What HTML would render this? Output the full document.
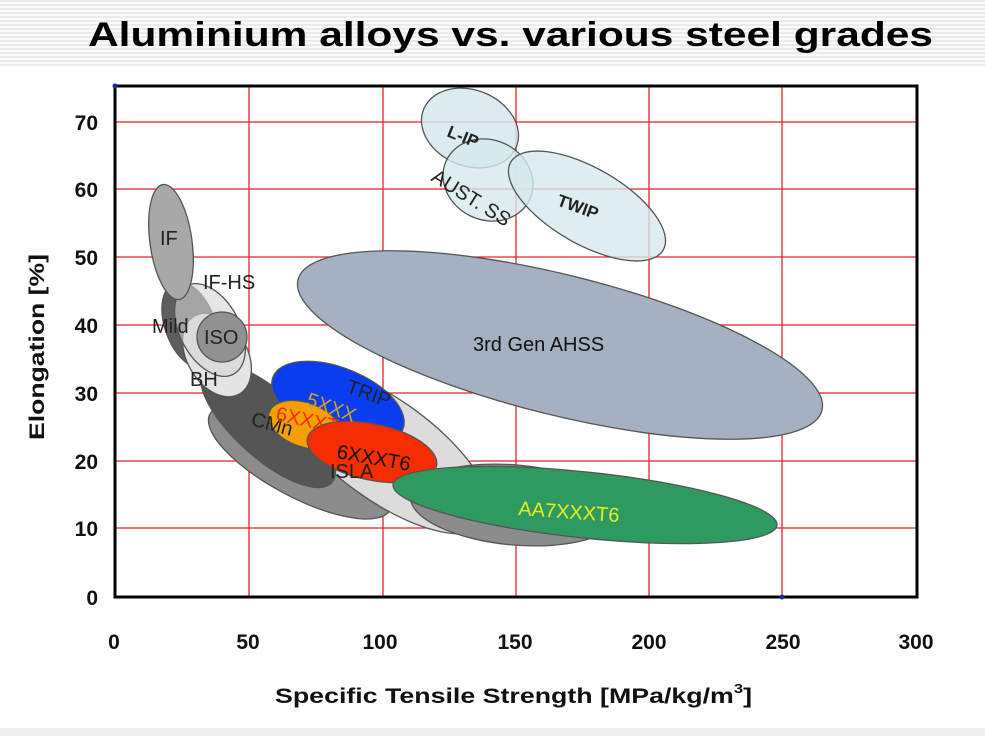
<!DOCTYPE html>
<html><head><meta charset="utf-8"><style>
html,body{margin:0;padding:0;background:#fff;}
svg{display:block;}
</style></head><body>
<svg width="985" height="736" viewBox="0 0 985 736" xmlns="http://www.w3.org/2000/svg" font-family="Liberation Sans, Arial, sans-serif">
<defs>
<pattern id="stripes" width="4" height="4" patternUnits="userSpaceOnUse"><rect width="4" height="2" fill="#ebebeb"/><rect y="2" width="4" height="2" fill="#fafafa"/></pattern>
</defs>
<rect width="985" height="736" fill="#fff"/>
<rect x="0" y="0" width="985" height="66" fill="url(#stripes)"/>
<rect x="0" y="728" width="985" height="8" fill="#eeeeee"/>
<text x="88" y="46" font-size="34" font-weight="bold" fill="#000" textLength="845" lengthAdjust="spacingAndGlyphs">Aluminium alloys vs. various steel grades</text>

<!-- grid -->
<g stroke="#e8202a" stroke-width="1.3">
<line x1="249" y1="86" x2="249" y2="597"/><line x1="383" y1="86" x2="383" y2="597"/>
<line x1="516" y1="86" x2="516" y2="597"/><line x1="649" y1="86" x2="649" y2="597"/>
<line x1="782" y1="86" x2="782" y2="597"/>
<line x1="115" y1="122" x2="917" y2="122"/><line x1="115" y1="189" x2="917" y2="189"/>
<line x1="115" y1="257" x2="917" y2="257"/><line x1="115" y1="325" x2="917" y2="325"/>
<line x1="115" y1="393" x2="917" y2="393"/><line x1="115" y1="461" x2="917" y2="461"/>
<line x1="115" y1="528" x2="917" y2="528"/>
</g>

<g stroke="#555" stroke-width="1.3">
<ellipse cx="470" cy="128" rx="50" ry="38" transform="rotate(22 470 128)" fill="#d5e8ec" fill-opacity="0.85"/>
<ellipse cx="488" cy="180" rx="46" ry="40" transform="rotate(25 488 180)" fill="#d5e8ec" fill-opacity="0.8"/>
<ellipse cx="587" cy="206" rx="88" ry="38" transform="rotate(30 587 206)" fill="#d5e8ec" fill-opacity="0.8"/>
<ellipse cx="560" cy="345" rx="270" ry="70" transform="rotate(14 560 345)" fill="#a5b1c1"/>

<ellipse cx="300" cy="462" rx="102" ry="35" transform="rotate(28 300 462)" fill="#8c8c8c"/>
<ellipse cx="385" cy="450" rx="125" ry="50" transform="rotate(36 385 450)" fill="#dcdcdc"/>
<ellipse cx="268" cy="425" rx="86" ry="33" transform="rotate(42 268 425)" fill="#555"/>
<ellipse cx="190" cy="325" rx="25" ry="45" transform="rotate(-20 190 325)" fill="#5e5e5e"/>
<ellipse cx="217" cy="355" rx="30" ry="45" transform="rotate(-30 217 355)" fill="#e4e4e4"/>
<ellipse cx="210" cy="330" rx="30" ry="50" transform="rotate(-28 210 330)" fill="#d6d6d6" fill-opacity="0.6"/>
<ellipse cx="171" cy="242" rx="21" ry="58" transform="rotate(-8 171 242)" fill="#a8a8a8"/>
<circle cx="222" cy="337" r="25" fill="#919191"/>
<ellipse cx="515" cy="505" rx="105" ry="40" transform="rotate(5 515 505)" fill="#8c8c8c"/>
<ellipse cx="338" cy="403" rx="70" ry="35" transform="rotate(22 338 403)" fill="#0b3df0"/>
<ellipse cx="305" cy="425" rx="38" ry="22" transform="rotate(20 305 425)" fill="#f5a000"/>
<ellipse cx="372" cy="452" rx="66" ry="28" transform="rotate(12 372 452)" fill="#f52d00"/>
<ellipse cx="585" cy="505" rx="193" ry="33" transform="rotate(6 585 505)" fill="#2f9a60"/>
</g>

<g font-size="20" fill="#222">
<text x="160" y="245">IF</text>
<text x="203" y="289">IF-HS</text>
<text x="152" y="333">Mild</text>
<text x="204" y="344">ISO</text>
<text x="190" y="386">BH</text>
<text x="250" y="425" transform="rotate(15 250 425)">CMn</text>
<text x="330" y="478">ISLA</text>
<text x="345" y="392" transform="rotate(20 345 392)">TRIP</text>
<text x="305" y="405" fill="#d0a020" transform="rotate(20 305 405)">5XXX</text>
<text x="275" y="420" fill="#f52d00" transform="rotate(12 275 420)">6XXXT4</text>
<text x="336" y="458" fill="#111" transform="rotate(10 336 458)">6XXXT6</text>
<text x="518" y="515" fill="#e6ec20" transform="rotate(4 518 515)">AA7XXXT6</text>
<text x="473" y="351" fill="#111">3rd Gen AHSS</text>
<text x="446" y="136" font-weight="bold" font-size="17" transform="rotate(22 446 136)">L-IP</text>
<text x="430" y="180" transform="rotate(32 430 180)">AUST. SS</text>
<text x="556" y="205" font-weight="bold" font-size="17" transform="rotate(20 556 205)">TWIP</text>
</g>

<rect x="115" y="86" width="802" height="511" fill="none" stroke="#000" stroke-width="3"/>
<circle cx="115" cy="86" r="2.5" fill="#1a2aa0"/>
<circle cx="782" cy="597" r="2.5" fill="#1a2aa0"/>

<g font-size="21" font-weight="bold" text-anchor="end" fill="#111">
<text x="98" y="130">70</text><text x="98" y="197">60</text><text x="98" y="265">50</text>
<text x="98" y="333">40</text><text x="98" y="401">30</text><text x="98" y="469">20</text>
<text x="98" y="536">10</text><text x="98" y="605">0</text>
</g>
<g font-size="21" font-weight="bold" text-anchor="middle" fill="#111">
<text x="114" y="649">0</text><text x="248" y="649">50</text><text x="380" y="649">100</text>
<text x="515" y="649">150</text><text x="649" y="649">200</text><text x="783" y="649">250</text>
<text x="916" y="649">300</text>
</g>
<text x="275" y="703" font-size="21" font-weight="bold" fill="#111" textLength="477" lengthAdjust="spacingAndGlyphs">Specific Tensile Strength [MPa/kg/m<tspan font-size="13" dy="-10">3</tspan><tspan dy="10">]</tspan></text>
<text x="44" y="440" font-size="21" font-weight="bold" fill="#111" transform="rotate(-90 44 440)" textLength="186" lengthAdjust="spacingAndGlyphs">Elongation [%]</text>
</svg>
</body></html>
